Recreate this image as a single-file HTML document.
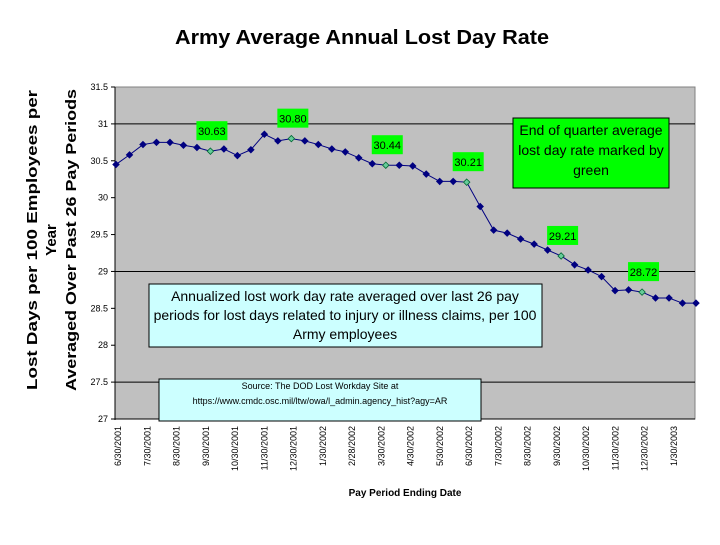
<!DOCTYPE html>
<html><head><meta charset="utf-8"><style>
body{margin:0;background:#fff;width:720px;height:540px;overflow:hidden;font-family:"Liberation Sans",Arial,sans-serif}
svg text{font-family:"Liberation Sans",Arial,sans-serif}
</style></head><body>
<svg id="chart" width="720" height="540">
<text x="362" y="44" text-anchor="middle" font-size="20" font-weight="bold" textLength="374" lengthAdjust="spacingAndGlyphs">Army Average Annual Lost Day Rate</text>
<g font-size="15" font-weight="bold" text-anchor="middle">
<text transform="translate(37,240) rotate(-90)" textLength="300" lengthAdjust="spacingAndGlyphs">Lost Days per 100 Employees per</text>
<text transform="translate(56,240) rotate(-90)">Year</text>
<text transform="translate(76,240) rotate(-90)" textLength="302" lengthAdjust="spacingAndGlyphs">Averaged Over  Past 26 Pay Periods</text>
</g>
<rect x="115" y="87" width="580" height="332" fill="#c0c0c0" stroke="#808080" stroke-width="1"/>
<g id="grid"></g>
<g id="yticks" font-size="9"></g>
<g id="xticks" font-size="9"></g>
<line x1="115" y1="87" x2="115" y2="420" stroke="#000"/>
<line x1="115" y1="419" x2="695" y2="419" stroke="#000"/>
<g id="series"></g>
<g id="labels" font-size="11"></g>
<g>
<rect x="513" y="118" width="156" height="70" fill="#00ff00" stroke="#000"/>
<text x="591" y="135" text-anchor="middle" font-size="14">End of quarter average</text>
<text x="591" y="155" text-anchor="middle" font-size="14">lost day rate marked by</text>
<text x="591" y="175" text-anchor="middle" font-size="14">green</text>
</g>
<g>
<rect x="149" y="284" width="393" height="63" fill="#ccffff" stroke="#000"/>
<text x="345" y="301" text-anchor="middle" font-size="14">Annualized lost work day rate averaged over last 26 pay</text>
<text x="345" y="320" text-anchor="middle" font-size="14">periods for lost days related to injury or illness claims, per 100</text>
<text x="345" y="339" text-anchor="middle" font-size="14">Army employees</text>
</g>
<g>
<rect x="159" y="379" width="322" height="42" fill="#ccffff" stroke="#000"/>
<text x="320" y="389" text-anchor="middle" font-size="9">Source: The DOD Lost Workday Site at</text>
<text x="320" y="404" text-anchor="middle" font-size="9">https://www.cmdc.osc.mil/ltw/owa/l_admin.agency_hist?agy=AR</text>
</g>
<text x="405" y="496" text-anchor="middle" font-size="10" font-weight="bold">Pay Period Ending Date</text>
</svg>
<script>
const values=[30.45,30.58,30.72,30.75,30.75,30.71,30.68,30.63,30.66,30.57,30.65,30.86,30.77,30.80,30.77,30.72,30.66,30.62,30.54,30.46,30.44,30.44,30.43,30.32,30.22,30.22,30.21,29.88,29.56,29.52,29.44,29.37,29.29,29.21,29.09,29.02,28.93,28.74,28.75,28.72,28.64,28.64,28.57,28.57];
const quarterIdx=[7,13,20,26,33,39];
const quarterLabels=["30.63","30.80","30.44","30.21","29.21","28.72"];
const yTicks=[27,27.5,28,28.5,29,29.5,30,30.5,31,31.5];
const gridVals=[27.5,29,31];
const xLabels=["6/30/2001","7/30/2001","8/30/2001","9/30/2001","10/30/2001","11/30/2001","12/30/2001","1/30/2002","2/28/2002","3/30/2002","4/30/2002","5/30/2002","6/30/2002","7/30/2002","8/30/2002","9/30/2002","10/30/2002","11/30/2002","12/30/2002","1/30/2003"];
const NS="http://www.w3.org/2000/svg";
const y=v=>419-(v-27)/4.5*332;
const x=i=>116+i*(580/43);
const xl=i=>118+i*(556/19);
function mk(t,a,p){const e=document.createElementNS(NS,t);for(const k in a)e.setAttribute(k,a[k]);p.appendChild(e);return e;}
const grid=document.getElementById('grid');
gridVals.forEach(v=>{const l=mk('line',{x1:115,x2:695,y1:y(v),y2:y(v),stroke:'#000'},grid);

});
const yt=document.getElementById('yticks');
yTicks.forEach(v=>{const t=mk('text',{x:108,y:y(v)+3,'text-anchor':'end'},yt);t.textContent=String(v);


mk('line',{x1:111,x2:115,y1:y(v),y2:y(v),stroke:'#000'},yt);});
const xt=document.getElementById('xticks');
xLabels.forEach((s,i)=>{const t=mk('text',{transform:`translate(${xl(i)+3},426) rotate(-90)`,'text-anchor':'end'},xt);t.textContent=s;

});
const sg=document.getElementById('series');
mk('polyline',{points:values.map((v,i)=>x(i)+','+y(v)).join(' '),fill:'none',stroke:'#000080','stroke-width':1},sg);
values.forEach((v,i)=>{const q=quarterIdx.includes(i);const cx=x(i),cy=y(v),r=3.2;
const p=mk('polygon',{points:`${cx},${cy-r} ${cx+r},${cy} ${cx},${cy+r} ${cx-r},${cy}`,fill:q?'#66cc99':'#000080',stroke:q?'#006633':'#000080','stroke-width':0.8},sg);

});
const lg=document.getElementById('labels');
quarterIdx.forEach((idx,k)=>{const cx=x(idx),cy=y(values[idx]);const bx=cx-14,by=cy-30;
const g=mk('g',{},lg);


mk('rect',{x:bx,y:by,width:31,height:19,fill:'#00ff00'},g);
const t=mk('text',{x:bx+15.5,y:by+14,'text-anchor':'middle'},g);t.textContent=quarterLabels[k];});
</script>
</body></html>
